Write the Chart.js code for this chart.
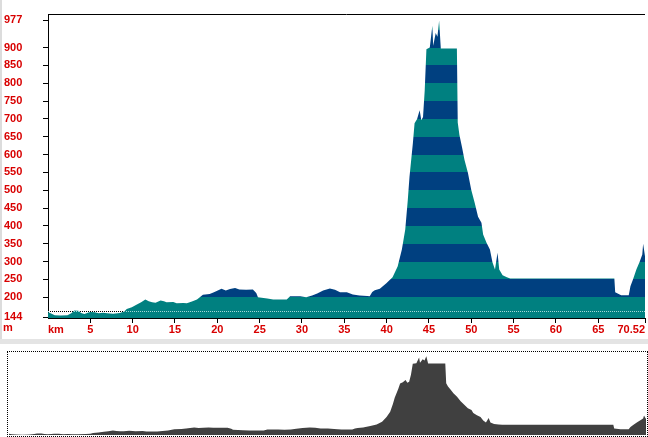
<!DOCTYPE html>
<html>
<head>
<meta charset="utf-8">
<script src="https://cdn.jsdelivr.net/npm/chart.js@4.4.1/dist/chart.umd.min.js"></script>
<style>
  body { margin: 0; background: #fff; width: 648px; height: 437px; position: relative; overflow: hidden; }
  #profile { position: absolute; left: 0; top: 0; }
  #unit { position: absolute; left: 3px; top: 321px; color: #d80000; font: bold 11px "Liberation Sans", Arial, sans-serif; }
  #edge { position: absolute; left: 0; top: 0; width: 2px; height: 339px; background: #dcdcdc; }
  #sep { position: absolute; left: 0; top: 339px; width: 648px; height: 5px; background: #e4e4e4; }
  #box { position: absolute; left: 7px; top: 351px; width: 639px; height: 84px; border: 1px dotted #000; }
  #overview { display: block; margin: 1px; }
</style>
</head>
<body>
<div id="edge"></div>
<canvas id="profile" width="648" height="338"></canvas>
<div id="unit">m</div>
<div id="sep"></div>
<div id="box"><canvas id="overview" width="637" height="82"></canvas></div>
<script>
// distance (km) and elevation (m)
var distKm = [0.0, 0.3, 0.8, 1.5, 2.3, 2.8, 3.1, 3.6, 3.9, 4.3, 4.7, 5.0, 5.5, 6.0, 6.5, 7.0, 7.7, 8.5, 9.0, 9.3,
  9.9, 10.5, 11.0, 11.5, 11.9, 12.3, 12.7, 13.3, 13.7, 14.0, 14.8, 15.2, 16.0, 16.4, 17.0, 17.6, 18.3, 19.1, 19.6, 20.5,
  21.0, 21.5, 22.1, 22.6, 23.4, 24.2, 24.6, 24.8, 25.9, 26.6, 28.2, 28.6, 29.8, 30.5, 31.2, 31.8, 32.5, 33.3, 33.9, 34.5,
  35.3, 36.0, 36.8, 37.7, 38.0, 38.3, 38.6, 39.2, 40.0, 40.7, 41.3, 41.8, 42.2, 42.5, 42.7, 43.1, 43.3, 43.6, 43.9, 44.1,
  44.3, 44.5, 44.7, 45.1, 45.4, 45.5, 45.8, 46.0, 46.2, 46.4, 48.3, 48.4, 48.6, 48.9, 49.2, 49.6, 50.0, 50.4, 50.8, 51.2,
  51.4, 51.8, 52.2, 52.5, 52.8, 53.1, 53.3, 53.7, 54.2, 54.6, 66.9, 67.0, 67.7, 68.6, 68.8, 69.1, 69.5, 69.9, 70.2, 70.3,
  70.52];
var elevM = [158, 155, 150, 149, 150, 156, 163, 162, 156, 153, 157, 159, 158, 155, 157, 155, 154, 156, 160, 167,
  172, 180, 186, 194, 189, 186, 185, 191, 189, 186, 187, 183, 184, 183, 188, 194, 207, 209, 214, 224,
  219, 223, 226, 222, 221, 222, 212, 200, 197, 194, 194, 203, 203, 200, 205, 211, 219, 225, 221, 214,
  214, 208, 205, 204, 203, 215, 220, 224, 240, 256, 286, 334, 390, 473, 537, 632, 688, 700, 724, 696,
  705, 780, 895, 900, 961, 905, 941, 930, 975, 897, 897, 690, 655, 621, 585, 549, 501, 465, 426, 409,
  376, 353, 334, 298, 278, 325, 278, 262, 256, 253, 253, 214, 206, 206, 231, 250, 278, 300, 320, 350,
  315];
var yTicks = [144, 200, 250, 300, 350, 400, 450, 500, 550, 600, 650, 700, 750, 800, 850, 900, 977];
var xTicks = [0, 5, 10, 15, 20, 25, 30, 35, 40, 45, 50, 55, 60, 65, 70.52];
var dottedLevel = 161;

var points = [];
for (var i in distKm) {
  points.push({ x: distKm[i], y: elevM[i] });
}

var red = "#d80000";
var bands = ["#008080", "#004080"];
var labelFont = { family: "'Liberation Sans', Arial, sans-serif", size: 11, weight: "bold" };

// alternating 50 m colour bands
function stripes(context) {
  var chart = context.chart;
  var area = chart.chartArea;
  if (!area) return bands[0];
  var y = chart.scales.y;
  var h = area.bottom - area.top;
  var g = chart.ctx.createLinearGradient(0, area.bottom, 0, area.top);
  var prev = 0;
  var k = 0;
  for (var v = 200; v < y.max; v += 50) {
    var pos = Math.min(Math.max((area.bottom - y.getPixelForValue(v)) / h, 0), 1);
    g.addColorStop(prev, bands[k % 2]);
    g.addColorStop(pos, bands[k % 2]);
    prev = pos;
    k++;
  }
  g.addColorStop(prev, bands[k % 2]);
  g.addColorStop(1, bands[k % 2]);
  return g;
}

var frame = {
  id: "frame",
  afterDatasetsDraw: function (chart) {
    var c = chart.ctx;
    var a = chart.chartArea;
    var py = Math.round(chart.scales.y.getPixelForValue(dottedLevel)) + 0.5;
    c.save();
    c.lineWidth = 1;
    c.setLineDash([1, 1]);
    c.globalCompositeOperation = "source-atop";
    c.strokeStyle = "#a3d6d6";
    c.beginPath(); c.moveTo(a.left, py); c.lineTo(a.right, py); c.stroke();
    c.globalCompositeOperation = "destination-over";
    c.strokeStyle = "#000";
    c.beginPath(); c.moveTo(a.left, py); c.lineTo(a.right, py); c.stroke();
    c.setLineDash([]);
    c.globalCompositeOperation = "source-over";
    c.beginPath(); c.moveTo(a.left, a.top + 0.5); c.lineTo(a.right, a.top + 0.5); c.stroke();
    c.restore();
  },
};

var ctx = document.getElementById("profile");
var profileChart = new Chart(ctx, {
  type: "line",
  data: {
    datasets: [
      {
        data: points,
        fill: "start",
        backgroundColor: stripes,
        borderWidth: 0,
        pointRadius: 0,
        tension: 0,
      },
    ],
  },
  options: {
    responsive: false,
    animation: false,
    layout: { padding: { left: 4, top: 14, right: 3, bottom: 0 } },
    plugins: { legend: { display: false }, tooltip: { enabled: false } },
    scales: {
      x: {
        type: "linear",
        min: 0,
        max: 70.52,
        afterBuildTicks: function (scale) {
          scale.ticks = xTicks.map(function (v) { return { value: v }; });
        },
        afterFit: function (scale) { scale.height = 20; },
        ticks: {
          autoSkip: false,
          maxRotation: 0,
          align: "inner",
          padding: 0,
          color: red,
          font: labelFont,
          callback: function (v) { return v === 0 ? "km" : String(v); },
        },
        grid: {
          drawOnChartArea: false,
          tickLength: 5,
          tickColor: function (c) { return c.tick && c.tick.value === 0 ? "rgba(0,0,0,0)" : "#000"; },
        },
        border: { color: "#000", width: 1 },
      },
      y: {
        min: 142,
        max: 994,
        afterBuildTicks: function (scale) {
          scale.ticks = yTicks.map(function (v) { return { value: v }; });
        },
        afterFit: function (scale) { scale.width = 44; },
        ticks: {
          autoSkip: false,
          crossAlign: "far",
          color: red,
          font: labelFont,
        },
        grid: { drawOnChartArea: false, tickLength: 5, tickColor: "#000" },
        border: { color: "#000", width: 1, dash: [1, 1] },
      },
    },
  },
  plugins: [frame],
});

var ctx2 = document.getElementById("overview");
var overviewChart = new Chart(ctx2, {
  type: "line",
  data: {
    datasets: [
      {
        data: points,
        fill: "start",
        backgroundColor: "#404040",
        borderWidth: 0,
        pointRadius: 0,
        tension: 0,
      },
    ],
  },
  options: {
    responsive: false,
    animation: false,
    layout: { padding: 0 },
    plugins: { legend: { display: false }, tooltip: { enabled: false } },
    scales: {
      x: { type: "linear", min: 0, max: 70.52, display: false },
      y: { min: 146, max: 1008, display: false },
    },
  },
});
</script>
</body>
</html>
